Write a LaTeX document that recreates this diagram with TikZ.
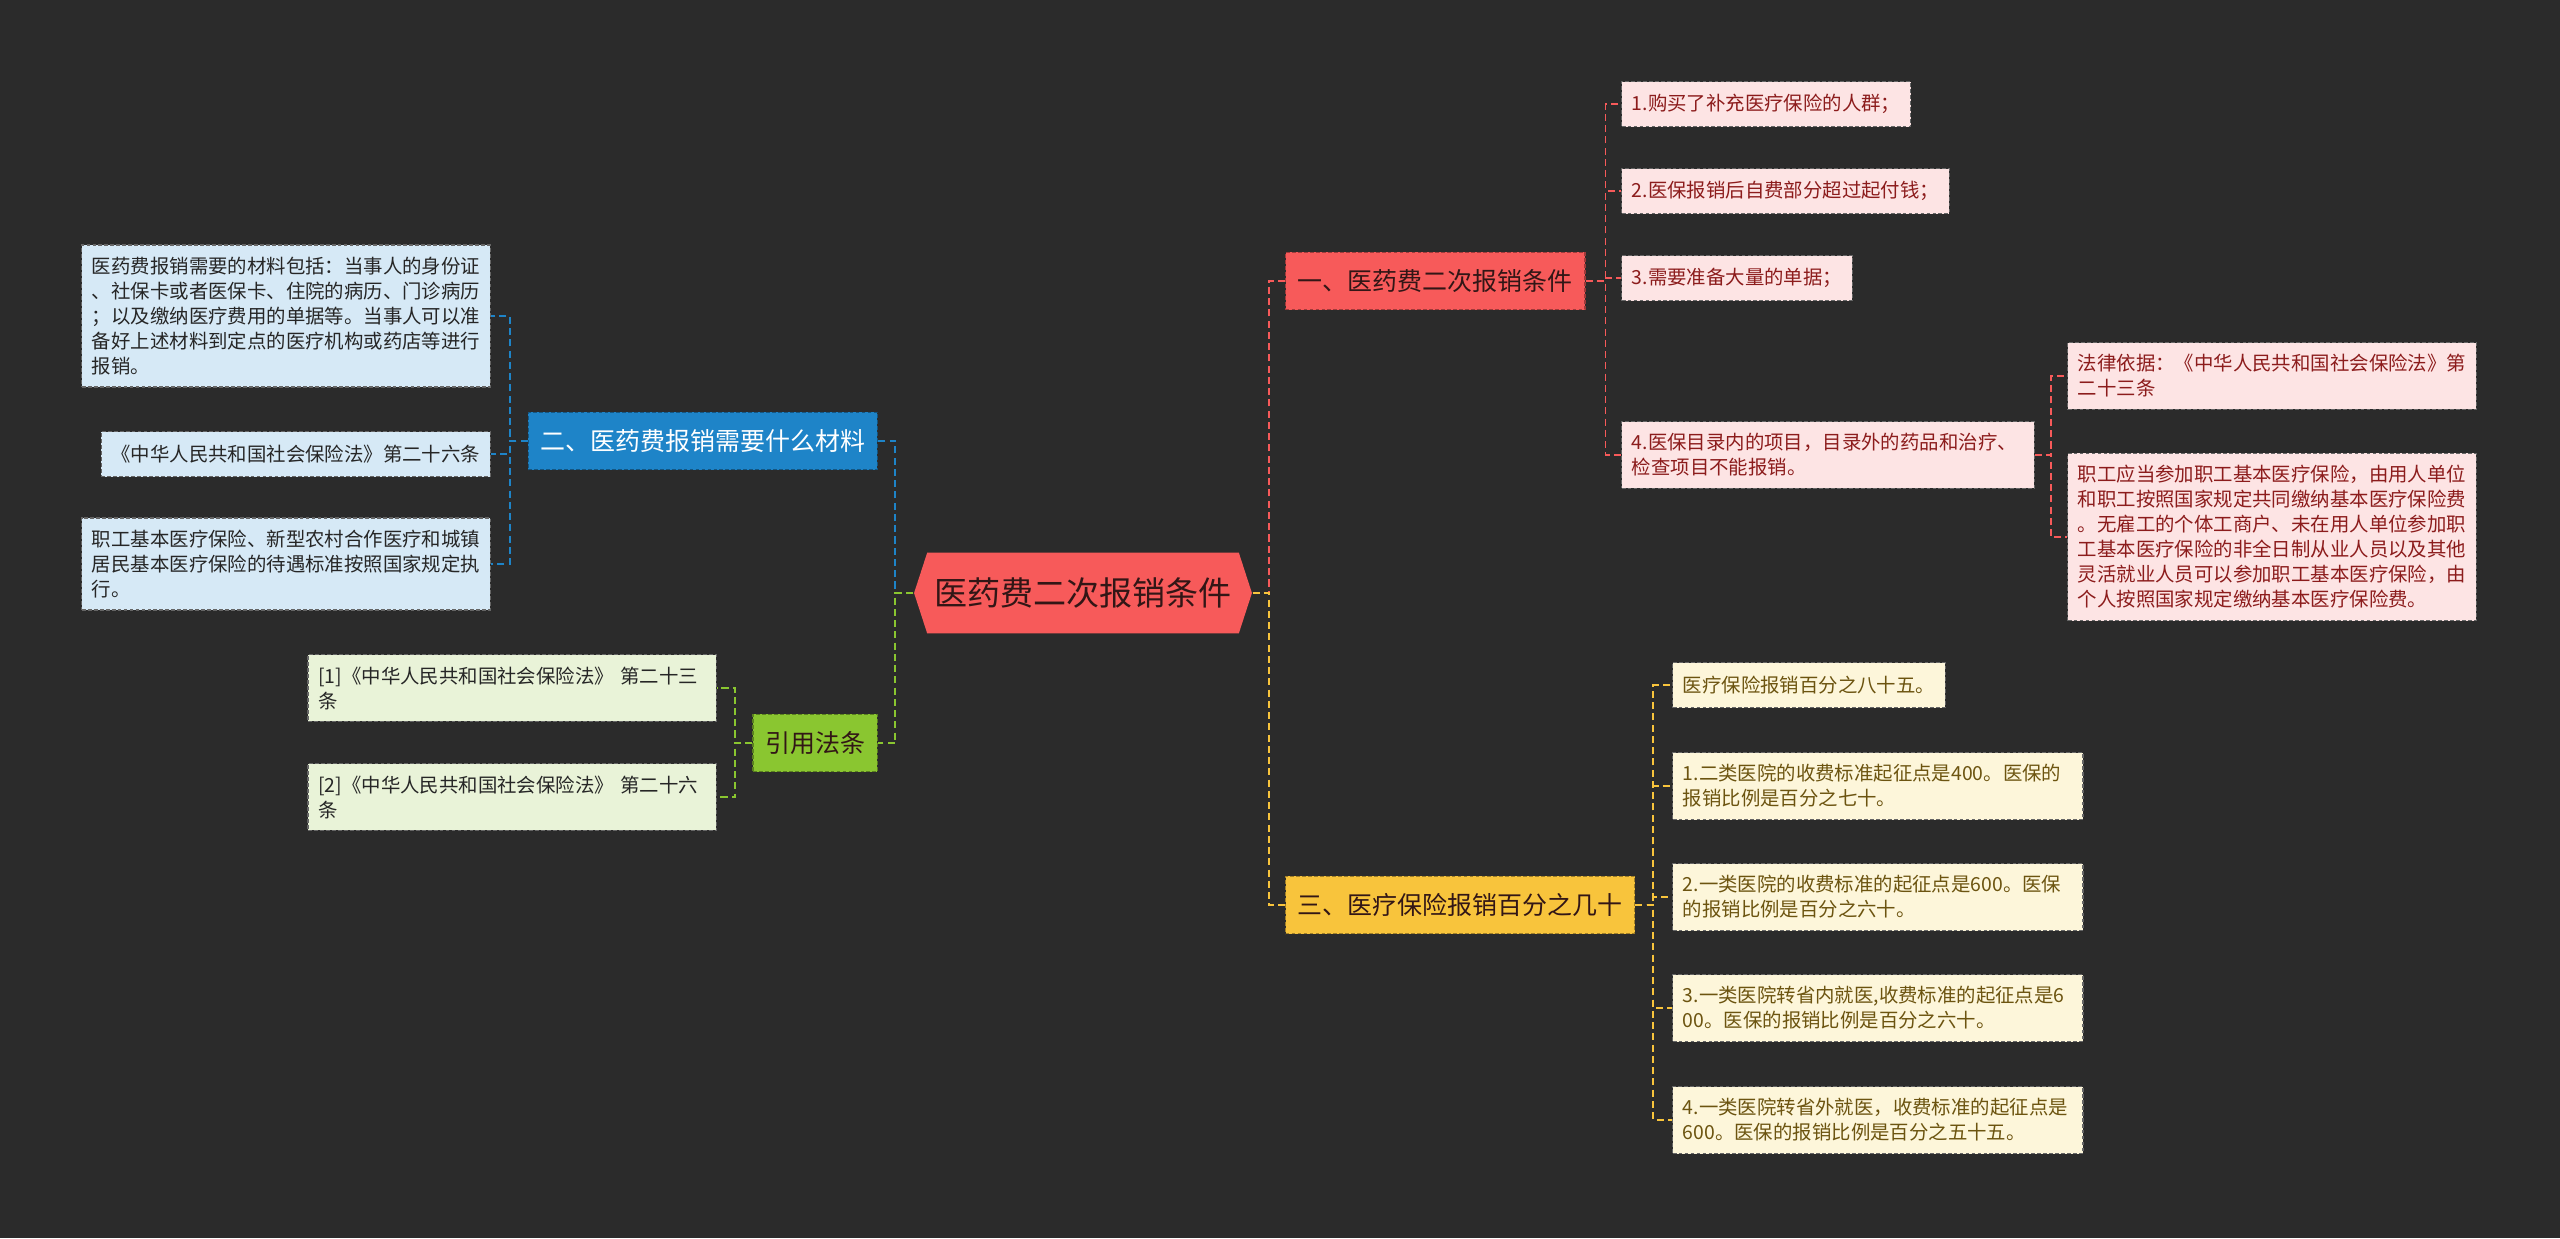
\documentclass[tikz,border=0pt]{standalone}
\usepackage{fontspec}
\setmainfont{Noto Sans CJK SC}
\usetikzlibrary{positioning,shapes.symbols}

\definecolor{medbg}     {RGB}{43,43,43}
\definecolor{medred}    {RGB}{247,90,90}
\definecolor{medredlt}  {RGB}{253,228,228}
\definecolor{medredtx}  {RGB}{140,28,28}
\definecolor{medblue}   {RGB}{30,132,200}
\definecolor{medbluelt} {RGB}{214,233,246}
\definecolor{medgreen}  {RGB}{138,198,48}
\definecolor{medgreenlt}{RGB}{233,243,216}
\definecolor{medgold}   {RGB}{248,196,60}
\definecolor{medgoldlt} {RGB}{253,246,218}
\definecolor{medgoldtx} {RGB}{108,84,16}
\definecolor{medink}    {RGB}{50,22,22}

\newcommand{\leaffont}{\fontsize{5.52pt}{7.11pt}\selectfont}
\newcommand{\branchfont}{\fontsize{7.1pt}{8.5pt}\selectfont}
\newcommand{\rootfont}{\fontsize{9.4pt}{11pt}\selectfont}

\tikzset{
  leaf/.style={rectangle,fill=#1,draw=black!60,dash pattern=on 1.1pt off 0.6pt,
               line width=0.35pt,font=\leaffont,align=left,
               inner xsep=2.9pt,inner ysep=3.4pt,minimum height=12.8pt},
  wide/.style={text width=#1},
  branch/.style={rectangle,fill=#1,draw=#1!65!black,dash pattern=on 1.1pt off 0.6pt,
                 line width=0.35pt,font=\branchfont,
                 inner xsep=3.5pt,minimum height=16.3pt},
  mainnode/.style={signal,signal to=west and east,signal pointer angle=144,
                   fill=medred,text=medink,font=\rootfont,
                   minimum width=95.3pt,minimum height=23pt,inner sep=2pt},
  link/.style={draw=#1,dash pattern=on 2pt off 1.2pt,line width=0.55pt},
}

\begin{document}
\begin{tikzpicture}[x=0.01cm,y=-0.01cm]
  \fill[medbg] (0,0) rectangle (2560,1238);
  \useasboundingbox (0,0) rectangle (2560,1238);

  % centre and main branches
  \node[mainnode] (root) at (1083,593) {医药费二次报销条件};
  \node[branch=medred,text=medink,anchor=west] (cond) at (1285,281) {一、医药费二次报销条件};
  \node[branch=medblue,text=white,anchor=east] (mater) at (878,441) {二、医药费报销需要什么材料};
  \node[branch=medgreen,text=medink,anchor=east] (laws) at (878,743) {引用法条};
  \node[branch=medgold,text=medink,anchor=west] (ratio) at (1285,905) {三、医疗保险报销百分之几十};

  % conditions
  \node[leaf=medredlt,text=medredtx,anchor=west] (c1) at (1621,104) {1.购买了补充医疗保险的人群；};
  \node[leaf=medredlt,text=medredtx,anchor=west] (c2) at (1621,191) {2.医保报销后自费部分超过起付钱；};
  \node[leaf=medredlt,text=medredtx,anchor=west] (c3) at (1621,278) {3.需要准备大量的单据；};
  \node[leaf=medredlt,text=medredtx,anchor=west,wide=111.5pt] (c4) at (1621,455) {4.医保目录内的项目，目录外的药品和治疗、\\检查项目不能报销。};
  \node[leaf=medredlt,text=medredtx,anchor=west] (c4a) at (2067,376) {法律依据：《中华人民共和国社会保险法》第\\二十三条};
  \node[leaf=medredlt,text=medredtx,anchor=west] (c4b) at (2067,537) {职工应当参加职工基本医疗保险，由用人单位\\和职工按照国家规定共同缴纳基本医疗保险费\\。无雇工的个体工商户、未在用人单位参加职\\工基本医疗保险的非全日制从业人员以及其他\\灵活就业人员可以参加职工基本医疗保险，由\\个人按照国家规定缴纳基本医疗保险费。};

  % materials
  \node[leaf=medbluelt,text=black!85,anchor=east] (m1) at (491,316) {医药费报销需要的材料包括：当事人的身份证\\、社保卡或者医保卡、住院的病历、门诊病历\\；以及缴纳医疗费用的单据等。当事人可以准\\备好上述材料到定点的医疗机构或药店等进行\\报销。};
  \node[leaf=medbluelt,text=black!85,anchor=east] (m2) at (491,454) {《中华人民共和国社会保险法》第二十六条};
  \node[leaf=medbluelt,text=black!85,anchor=east] (m3) at (491,564) {职工基本医疗保险、新型农村合作医疗和城镇\\居民基本医疗保险的待遇标准按照国家规定执\\行。};

  % laws
  \node[leaf=medgreenlt,text=black!85,anchor=east,wide=110.3pt] (l1) at (717,688) {[1]《中华人民共和国社会保险法》 第二十三\\条};
  \node[leaf=medgreenlt,text=black!85,anchor=east,wide=110.3pt] (l2) at (717,797) {[2]《中华人民共和国社会保险法》 第二十六\\条};

  % ratios
  \node[leaf=medgoldlt,text=medgoldtx,anchor=west] (r1) at (1672,685) {医疗保险报销百分之八十五。};
  \node[leaf=medgoldlt,text=medgoldtx,anchor=west,wide=110.9pt] (r2) at (1672,786) {1.二类医院的收费标准起征点是400。医保的\\报销比例是百分之七十。};
  \node[leaf=medgoldlt,text=medgoldtx,anchor=west,wide=110.9pt] (r3) at (1672,897) {2.一类医院的收费标准的起征点是600。医保\\的报销比例是百分之六十。};
  \node[leaf=medgoldlt,text=medgoldtx,anchor=west,wide=110.9pt] (r4) at (1672,1008) {3.一类医院转省内就医,收费标准的起征点是6\\00。医保的报销比例是百分之六十。};
  \node[leaf=medgoldlt,text=medgoldtx,anchor=west,wide=110.9pt] (r5) at (1672,1120) {4.一类医院转省外就医，收费标准的起征点是\\600。医保的报销比例是百分之五十五。};

  % connectors
  \draw[link=medred] (root.east) -- ++(16,0) |- (cond.west);
  \draw[link=medgold] (root.east) -- ++(16,0) |- (ratio.west);
  \draw[link=medblue] (root.west) -- ++(-18,0) |- (mater.east);
  \draw[link=medgreen] (root.west) -- ++(-18,0) |- (laws.east);
  \foreach \c in {c1,c2,c3,c4}
    \draw[link=medred] (cond.east) -- ++(20,0) |- (\c.west);
  \foreach \c in {c4a,c4b}
    \draw[link=medred] (c4.east) -- ++(16,0) |- (\c.west);
  \foreach \m in {m1,m2,m3}
    \draw[link=medblue] (mater.west) -- ++(-18,0) |- (\m.east);
  \foreach \l in {l1,l2}
    \draw[link=medgreen] (laws.west) -- ++(-17,0) |- (\l.east);
  \foreach \r in {r1,r2,r3,r4,r5}
    \draw[link=medgold] (ratio.east) -- ++(18,0) |- (\r.west);
\end{tikzpicture}
\end{document}
